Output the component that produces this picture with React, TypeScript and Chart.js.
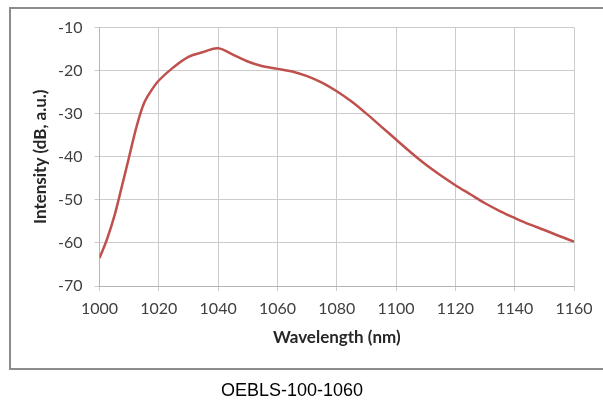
import React, { useEffect, useRef } from "react";
import { Chart, registerables } from "chart.js";

Chart.register(...registerables);

const wavelengths = [1000, 1002.5, 1005, 1007.5, 1010, 1012.5, 1015, 1017.5, 1020, 1025, 1030, 1035, 1040, 1045, 1050, 1055, 1060, 1065, 1070, 1075, 1080, 1085, 1090, 1095, 1100, 1105, 1110, 1115, 1120, 1125, 1130, 1135, 1140, 1145, 1150, 1155, 1160];
const intensity = [-63.5, -59.2, -53.8, -47.0, -40.0, -33.0, -27.6, -24.6, -22.3, -19.2, -16.8, -15.7, -14.8, -16.3, -17.9, -19.0, -19.6, -20.2, -21.3, -22.8, -24.8, -27.2, -30.0, -33.0, -36.0, -39.0, -41.8, -44.3, -46.6, -48.7, -50.8, -52.6, -54.2, -55.7, -57.0, -58.4, -59.7];
const xTitle = "Wavelength (nm)";
const yTitle = "Intensity (dB, a.u.)";
const caption = "OEBLS-100-1060";

export default function App() {
  const ref = useRef<HTMLCanvasElement | null>(null);
  useEffect(() => {
    if (!ref.current) return;
    const chart = new Chart(ref.current, {
      type: "line",
      data: {
        datasets: [
          {
            data: wavelengths.map((w, i) => ({ x: w, y: intensity[i] })),
            borderColor: "#c0504d",
            borderWidth: 2.5,
            pointRadius: 0,
            tension: 0.35,
          },
        ],
      },
      options: {
        animation: false,
        responsive: false,
        maintainAspectRatio: false,
        layout: { padding: { left: 30, top: 27.5, right: 29, bottom: 44 } },
        plugins: { legend: { display: false }, tooltip: { enabled: false } },
        scales: {
          x: {
            type: "linear",
            min: 1000,
            max: 1160,
            afterFit: (s: any) => {
              s.height = 70;
            },
            ticks: { stepSize: 20, color: "#404040", font: { family: "Lato", size: 16 }, padding: 8, maxRotation: 0, callback: (v: any) => String(v) },
            grid: { color: "#cccccc", lineWidth: 1, tickLength: 5 },
            border: { color: "#b5b5b5", width: 1 },
            title: { display: true, text: xTitle, color: "#262626", font: { family: "Lato", size: 17, weight: "bold" }, padding: { top: 4, bottom: 8 } },
          },
          y: {
            type: "linear",
            min: -70,
            max: -10,
            afterFit: (s: any) => {
              s.width = 69.5;
            },
            ticks: { stepSize: 10, color: "#404040", font: { family: "Lato", size: 16 }, padding: 12, callback: (v: any) => String(v) },
            grid: { color: "#cccccc", lineWidth: 1, tickLength: 5 },
            border: { color: "#b5b5b5", width: 1 },
            title: { display: true, text: yTitle, color: "#262626", font: { family: "Lato", size: 17, weight: "bold" }, padding: { top: 0, bottom: 0 } },
          },
        },
      },
    } as any);
    return () => chart.destroy();
  }, []);
  return (
    <div style={{ position: "fixed", left: 0, top: 0, width: 603, height: 400, overflow: "hidden", background: "#fff" }}>
      <div style={{ position: "absolute", left: 9, top: 7, width: 620, height: 359, border: "2px solid #8c8c8c" }} />
      <canvas ref={ref} width={603} height={400} style={{ position: "absolute", left: 0, top: 0, width: 603, height: 400 }} />
      <div style={{ position: "absolute", left: 0, top: 380.5, width: 584, textAlign: "center", fontFamily: "'Liberation Sans', Arial, sans-serif", fontSize: 18, lineHeight: "18px", color: "#000" }}>{caption}</div>
    </div>
  );
}
